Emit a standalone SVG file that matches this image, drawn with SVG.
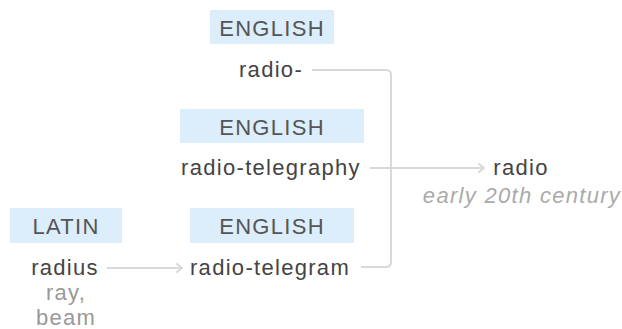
<svg xmlns="http://www.w3.org/2000/svg" width="622" height="329" viewBox="0 0 622 329">
  <style>
    text { font-family: "Liberation Sans", Arial, sans-serif; font-size: 22px; letter-spacing: 1.3px; text-anchor: middle; }
    .lang { fill: #dcedfc; }
    .lang-text { fill: #555; }
    .word { fill: #444; }
    .gloss { fill: #999; }
    .date { fill: #aaa; font-style: italic; }
    .link { fill: none; stroke: #d9d9d9; stroke-width: 2; }
    .head { fill: none; stroke: #d9d9d9; stroke-width: 2; stroke-linecap: round; stroke-linejoin: round; }
  </style>
  <defs>
    <marker id="arrow" viewBox="0 0 10 10" refX="9" refY="5" markerWidth="10" markerHeight="10" markerUnits="userSpaceOnUse" orient="auto">
      <path class="head" d="M4,1 L9,5 L4,9"/>
    </marker>
  </defs>

  <rect width="622" height="329" fill="#fff"/>

  <g id="connectors">
    <path class="link" d="M312,70 H386 Q391,70 391,75 V262 Q391,267 386,267 H361"/>
    <path class="link" d="M370,168 H484" marker-end="url(#arrow)"/>
    <path class="link" d="M107,268 H182" marker-end="url(#arrow)"/>
  </g>

  <g id="node-radio-prefix">
    <rect class="lang" x="210" y="10" width="124" height="34"/>
    <text class="lang-text" x="272" y="36">ENGLISH</text>
    <text class="word" x="271" y="77">radio-</text>
  </g>

  <g id="node-radio-telegraphy">
    <rect class="lang" x="180" y="109" width="184" height="34"/>
    <text class="lang-text" x="272" y="135">ENGLISH</text>
    <text class="word" x="271" y="175">radio-telegraphy</text>
  </g>

  <g id="node-radius">
    <rect class="lang" x="10" y="208" width="112" height="35"/>
    <text class="lang-text" x="66" y="234">LATIN</text>
    <text class="word" x="65" y="275">radius</text>
    <text class="gloss" x="66" y="300">ray,</text>
    <text class="gloss" x="66" y="325">beam</text>
  </g>

  <g id="node-radio-telegram">
    <rect class="lang" x="190" y="208" width="164" height="35"/>
    <text class="lang-text" x="272" y="234">ENGLISH</text>
    <text class="word" x="270" y="275">radio-telegram</text>
  </g>

  <g id="node-radio">
    <text class="word" x="521" y="175">radio</text>
    <text class="date" x="522" y="203">early 20th century</text>
  </g>
</svg>
